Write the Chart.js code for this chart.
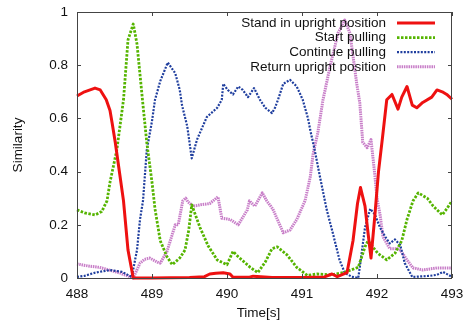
<!DOCTYPE html>
<html>
<head>
<meta charset="utf-8">
<script src="https://cdn.jsdelivr.net/npm/chart.js@4/dist/chart.umd.min.js"></script>
<style>
  html, body { margin: 0; padding: 0; background: #ffffff; }
  #wrap { width: 470px; height: 324px; position: relative; }
</style>
</head>
<body>
<div id="wrap"><canvas id="c" width="470" height="324"></canvas></div>
<script>
// Similarity of each posture class over time
const seriesNames = ['Stand in upright position', 'Start pulling', 'Continue pulling', 'Return upright position'];
const xTicks = [488, 489, 490, 491, 492, 493];
const yTicks = [0, 0.2, 0.4, 0.6, 0.8, 1];

const standT = [488.00, 488.10, 488.24, 488.31, 488.39, 488.44, 488.47, 488.51, 488.57, 488.62, 488.68, 488.75, 489.00, 489.50, 489.70, 489.77, 489.85, 489.95, 490.04, 490.08, 490.30, 490.35, 490.45, 490.60, 491.00, 491.30, 491.40, 491.47, 491.60, 491.68, 491.74, 491.78, 491.84, 491.88, 491.92, 491.97, 492.02, 492.07, 492.13, 492.20, 492.28, 492.33, 492.40, 492.47, 492.53, 492.61, 492.73, 492.80, 492.87, 492.93, 493.00];
const standV = [0.684, 0.70, 0.714, 0.707, 0.67, 0.63, 0.58, 0.51, 0.39, 0.29, 0.105, 0.0, 0.0, 0.002, 0.005, 0.015, 0.018, 0.02, 0.015, 0.003, 0.003, 0.007, 0.005, 0.002, 0.002, 0.004, 0.015, 0.005, 0.02, 0.14, 0.28, 0.34, 0.27, 0.17, 0.075, 0.23, 0.40, 0.52, 0.67, 0.69, 0.635, 0.68, 0.72, 0.65, 0.64, 0.66, 0.68, 0.707, 0.70, 0.69, 0.672];

const startT = [488.00, 488.10, 488.24, 488.33, 488.40, 488.44, 488.53, 488.62, 488.68, 488.75, 488.80, 488.88, 488.93, 489.00, 489.04, 489.11, 489.20, 489.27, 489.37, 489.44, 489.49, 489.53, 489.64, 489.75, 489.87, 490.00, 490.08, 490.15, 490.31, 490.41, 490.51, 490.60, 490.67, 490.80, 490.93, 491.07, 491.20, 491.40, 491.55, 491.75, 491.84, 491.88, 492.01, 492.13, 492.24, 492.33, 492.40, 492.48, 492.55, 492.67, 492.75, 492.87, 492.93, 493.00];
const startV = [0.256, 0.245, 0.237, 0.25, 0.29, 0.36, 0.48, 0.67, 0.895, 0.955, 0.88, 0.65, 0.51, 0.36, 0.26, 0.14, 0.08, 0.05, 0.075, 0.105, 0.18, 0.275, 0.19, 0.12, 0.068, 0.05, 0.10, 0.08, 0.04, 0.02, 0.06, 0.11, 0.117, 0.087, 0.04, 0.01, 0.015, 0.012, 0.02, 0.04, 0.117, 0.14, 0.093, 0.068, 0.093, 0.14, 0.22, 0.29, 0.32, 0.30, 0.27, 0.237, 0.26, 0.29];

const contT = [488.00, 488.10, 488.24, 488.44, 488.60, 488.73, 488.80, 488.84, 488.88, 488.93, 489.00, 489.04, 489.11, 489.21, 489.31, 489.37, 489.40, 489.47, 489.53, 489.60, 489.73, 489.87, 489.93, 489.95, 490.01, 490.08, 490.15, 490.21, 490.28, 490.36, 490.44, 490.51, 490.60, 490.64, 490.68, 490.75, 490.84, 490.93, 491.01, 491.08, 491.11, 491.17, 491.24, 491.33, 491.41, 491.50, 491.57, 491.66, 491.75, 491.78, 491.84, 491.91, 491.97, 492.04, 492.11, 492.17, 492.24, 492.31, 492.37, 492.47, 492.70, 492.80, 492.88, 493.00];
const contV = [0.004, 0.008, 0.02, 0.03, 0.023, 0.004, 0.105, 0.22, 0.29, 0.48, 0.59, 0.67, 0.74, 0.81, 0.77, 0.707, 0.65, 0.57, 0.45, 0.52, 0.605, 0.64, 0.67, 0.73, 0.707, 0.69, 0.72, 0.707, 0.68, 0.714, 0.67, 0.64, 0.62, 0.64, 0.67, 0.73, 0.745, 0.72, 0.67, 0.60, 0.556, 0.48, 0.38, 0.256, 0.17, 0.068, 0.02, 0.005, 0.0, 0.06, 0.19, 0.26, 0.24, 0.19, 0.155, 0.13, 0.145, 0.124, 0.056, 0.004, 0.008, 0.012, 0.023, 0.004];

const returnT = [488.00, 488.15, 488.30, 488.57, 488.75, 488.84, 488.90, 488.97, 489.07, 489.11, 489.20, 489.31, 489.35, 489.41, 489.45, 489.48, 489.55, 489.64, 489.77, 489.88, 489.93, 490.04, 490.15, 490.27, 490.30, 490.37, 490.47, 490.53, 490.61, 490.75, 490.84, 490.93, 491.04, 491.11, 491.15, 491.21, 491.28, 491.37, 491.48, 491.57, 491.64, 491.73, 491.77, 491.81, 491.87, 491.92, 491.97, 492.00, 492.04, 492.08, 492.17, 492.27, 492.31, 492.40, 492.48, 492.61, 492.80, 493.00];
const returnV = [0.053, 0.045, 0.04, 0.019, 0.0, 0.056, 0.07, 0.075, 0.06, 0.056, 0.1, 0.2, 0.2, 0.29, 0.3, 0.286, 0.27, 0.275, 0.28, 0.305, 0.225, 0.22, 0.2, 0.256, 0.29, 0.27, 0.32, 0.29, 0.26, 0.17, 0.18, 0.22, 0.29, 0.38, 0.47, 0.545, 0.67, 0.79, 0.92, 0.97, 0.92, 0.73, 0.66, 0.51, 0.49, 0.52, 0.39, 0.30, 0.24, 0.155, 0.11, 0.11, 0.105, 0.068, 0.038, 0.03, 0.038, 0.038];

const FONT = '"Liberation Sans", Arial, sans-serif';
const FONT_SIZE = 13.5;

function pts(ts, vs) { return ts.map((t, i) => ({ x: t, y: vs[i] })); }

// Frame, inward ticks, axis titles and the key, drawn in gnuplot style
const framePlugin = {
  id: 'frame',
  afterDatasetsDraw(chart) {
    const { ctx, chartArea: a, scales } = chart;
    ctx.save();
    ctx.strokeStyle = '#444';
    ctx.lineWidth = 1;
    ctx.setLineDash([]);
    ctx.strokeRect(a.left + 0.5, a.top + 0.5, a.right - a.left - 1, a.bottom - a.top);
    const tl = 4;
    ctx.beginPath();
    xTicks.forEach(v => {
      const x = Math.round(scales.x.getPixelForValue(v)) + 0.5;
      ctx.moveTo(x, a.bottom); ctx.lineTo(x, a.bottom - tl);
      ctx.moveTo(x, a.top); ctx.lineTo(x, a.top + tl);
    });
    yTicks.forEach(v => {
      const y = Math.round(scales.y.getPixelForValue(v)) + 0.5;
      ctx.moveTo(a.left, y); ctx.lineTo(a.left + tl, y);
      ctx.moveTo(a.right, y); ctx.lineTo(a.right - tl, y);
    });
    ctx.stroke();

    // axis titles
    ctx.fillStyle = '#111';
    ctx.font = FONT_SIZE + 'px ' + FONT;
    ctx.textAlign = 'center';
    ctx.textBaseline = 'middle';
    ctx.fillText('Time[s]', (a.left + a.right) / 2 - 6, 313);
    ctx.save();
    ctx.translate(18, (a.top + a.bottom) / 2);
    ctx.rotate(-Math.PI / 2);
    ctx.fillText('Similarity', 0, 0);
    ctx.restore();

    // key, top right inside the plot
    const textRight = a.right - 66;
    const lineStart = a.right - 55;
    const lineEnd = a.right - 17;
    chart.data.datasets.forEach((ds, i) => {
      const y = a.top + 11 + i * 14.6;
      ctx.fillStyle = '#111';
      ctx.textAlign = 'right';
      ctx.fillText(ds.label, textRight, y);
      ctx.strokeStyle = ds.borderColor;
      ctx.lineWidth = ds.borderWidth;
      ctx.setLineDash(ds.borderDash || []);
      ctx.beginPath();
      ctx.moveTo(lineStart, y);
      ctx.lineTo(lineEnd, y);
      ctx.stroke();
    });
    ctx.restore();
  }
};

new Chart(document.getElementById('c'), {
  type: 'line',
  data: {
    datasets: [
      { label: seriesNames[0], data: pts(standT, standV), borderColor: '#ee1111', borderWidth: 3, borderDash: [] },
      { label: seriesNames[1], data: pts(startT, startV), borderColor: '#55b400', borderWidth: 2.8, borderDash: [2.5, 1.5] },
      { label: seriesNames[2], data: pts(contT, contV), borderColor: '#1f3e9e', borderWidth: 2.2, borderDash: [2, 1.4] },
      { label: seriesNames[3], data: pts(returnT, returnV), borderColor: '#c87ec8', borderWidth: 3, borderDash: [1.5, 0.8] }
    ].map(ds => Object.assign(ds, { pointRadius: 0, tension: 0, fill: false, clip: false, borderCapStyle: 'butt', borderJoinStyle: 'round' }))
  },
  options: {
    responsive: false,
    animation: false,
    devicePixelRatio: 1,
    layout: { padding: { left: 0, top: 12, right: 18, bottom: 0 } },
    plugins: { legend: { display: false }, tooltip: { enabled: false } },
    scales: {
      x: {
        type: 'linear', min: 488, max: 493,
        afterBuildTicks: s => { s.ticks = xTicks.map(v => ({ value: v })); },
        afterFit: s => { s.height = 46; s.paddingLeft = 0; s.paddingRight = 0; },
        grid: { display: false, drawTicks: false },
        border: { display: false },
        ticks: { padding: 8, color: '#111', font: { family: FONT, size: FONT_SIZE }, maxRotation: 0, autoSkip: false,
                 callback: v => String(v) }
      },
      y: {
        min: 0, max: 1,
        afterBuildTicks: s => { s.ticks = yTicks.map(v => ({ value: v })); },
        afterFit: s => { s.width = 77; s.paddingTop = 0; s.paddingBottom = 0; },
        grid: { display: false, drawTicks: false },
        border: { display: false },
        ticks: { padding: 9, color: '#111', font: { family: FONT, size: FONT_SIZE },
                 callback: v => String(Math.round(v * 10) / 10) }
      }
    }
  },
  plugins: [framePlugin]
});
</script>
</body>
</html>
